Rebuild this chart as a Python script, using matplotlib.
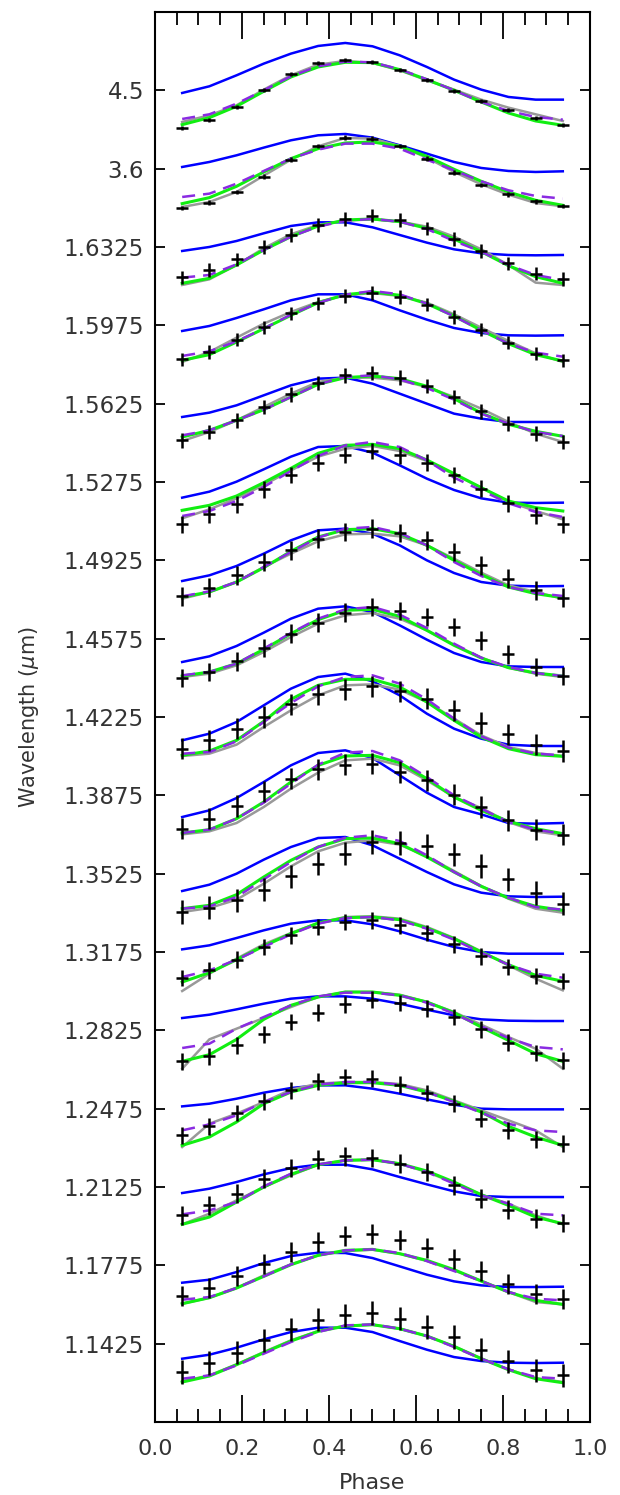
import matplotlib
matplotlib.use("Agg")
import matplotlib.pyplot as plt
import numpy as np

# spectroscopic channels, top of the stack first
wavelengths = [4.5, 3.6, 1.6325, 1.5975, 1.5625, 1.5275, 1.4925, 1.4575, 1.4225,
               1.3875, 1.3525, 1.3175, 1.2825, 1.2475, 1.2125, 1.1775, 1.1425]

phase = [0.0625, 0.125, 0.1875, 0.25, 0.3125, 0.375, 0.4375, 0.5,
         0.5625, 0.625, 0.6875, 0.75, 0.8125, 0.875, 0.9375]

SPACING = 235  # vertical shift between two channels (flux units)

# measured phase curves, relative flux
obs = [
    [-112, -88, -49, 0, 48, 81, 92, 84, 62, 31, -1, -32, -58, -83, -105],
    [-118, -102, -70, -24, 27, 68, 93, 90, 68, 30, -12, -49, -77, -98, -112],
    [-91, -69, -37, 0, 36, 66, 84, 94, 81, 56, 24, -12, -49, -80, -96],
    [-102, -80, -43, -6, 36, 66, 88, 97, 85, 62, 25, -13, -52, -85, -105],
    [-110, -85, -50, -10, 28, 62, 85, 92, 78, 53, 20, -23, -60, -90, -115],
    [-127, -97, -67, -22, 21, 58, 81, 93, 80, 58, 21, -20, -64, -100, -127],
    [-108, -82, -45, -5, 30, 65, 85, 95, 82, 60, 25, -15, -55, -90, -112],
    [-118, -100, -68, -28, 15, 48, 78, 95, 83, 65, 35, -5, -47, -85, -112],
    [-95, -70, -35, 0, 38, 68, 83, 92, 77, 55, 20, -18, -52, -83, -102],
    [-100, -70, -32, 12, 50, 78, 92, 95, 70, 45, 2, -35, -75, -103, -118],
    [-115, -102, -80, -48, -8, 30, 60, 95, 92, 83, 58, 23, -17, -58, -90],
    [-78, -55, -23, 15, 50, 75, 90, 95, 80, 57, 23, -13, -45, -72, -87],
    [-93, -78, -45, -12, 25, 53, 78, 92, 82, 65, 40, 3, -37, -68, -90],
    [-80, -53, -13, 22, 55, 82, 95, 90, 72, 47, 15, -30, -65, -92, -105],
    [-85, -55, -20, 25, 57, 83, 92, 87, 70, 45, 5, -35, -68, -95, -108],
    [-92, -67, -32, 5, 40, 70, 87, 93, 77, 53, 20, -18, -55, -87, -101],
    [-85, -58, -27, 10, 43, 72, 85, 92, 75, 50, 20, -18, -53, -80, -95],
]
obs_err = [6, 7, 20, 20, 22, 25, 28, 28, 32, 32, 35, 25, 25, 25, 28, 30, 35]

model_blue = [
    [-8, 12, 45, 80, 110, 133, 142, 132, 105, 70, 32, 2, -20, -28, -28],
    [5, 20, 40, 63, 85, 100, 104, 93, 70, 45, 20, 2, -7, -10, -8],
    [-12, 0, 18, 41, 63, 74, 74, 59, 36, 13, -7, -19, -24, -25, -24],
    [-17, -2, 22, 48, 75, 93, 93, 75, 45, 17, -8, -23, -30, -31, -30],
    [-40, -27, -5, 25, 55, 75, 78, 60, 30, 0, -30, -45, -55, -55, -55],
    [-47, -29, 1, 38, 76, 105, 108, 88, 50, 10, -24, -49, -62, -63, -62],
    [-62, -45, -17, 20, 60, 90, 95, 80, 45, 0, -38, -65, -76, -78, -77],
    [-70, -53, -22, 18, 60, 90, 97, 80, 40, -3, -43, -70, -83, -85, -85],
    [-70, -50, -15, 35, 85, 120, 130, 107, 65, 10, -35, -65, -83, -87, -87],
    [-65, -45, -8, 40, 90, 127, 135, 112, 60, 8, -35, -57, -83, -85, -83],
    [-52, -33, 0, 42, 80, 107, 110, 85, 45, 5, -32, -57, -68, -70, -69],
    [8, 20, 42, 65, 85, 95, 95, 83, 62, 37, 15, 0, -5, -5, -5],
    [37, 47, 63, 80, 95, 102, 102, 95, 80, 62, 45, 33, 29, 28, 28],
    [7, 15, 30, 48, 62, 70, 70, 60, 45, 28, 12, 0, -2, -2, -2],
    [-18, -5, 15, 38, 57, 67, 67, 53, 30, 8, -13, -27, -30, -30, -30],
    [-52, -43, -20, 7, 28, 38, 37, 22, -3, -28, -48, -60, -65, -65, -64],
    [-45, -33, -12, 13, 35, 48, 48, 35, 8, -18, -40, -52, -57, -58, -57],
]

model_gray = [
    [-95, -75, -45, 2, 45, 77, 88, 82, 60, 30, 2, -28, -52, -72, -92],
    [-115, -100, -70, -21, 27, 67, 92, 90, 68, 33, -10, -47, -78, -103, -113],
    [-114, -97, -54, -4, 38, 66, 79, 83, 76, 61, 31, -7, -54, -107, -114],
    [-110, -80, -37, 5, 40, 70, 90, 97, 88, 68, 33, -7, -47, -84, -110],
    [-112, -85, -50, -10, 30, 65, 78, 78, 70, 50, 20, -15, -55, -90, -115],
    [-109, -82, -49, -9, 35, 76, 100, 108, 93, 63, 23, -17, -59, -87, -112],
    [-115, -95, -65, -20, 20, 57, 78, 80, 72, 45, 5, -37, -75, -95, -115],
    [-115, -105, -80, -40, 5, 45, 70, 77, 60, 25, -18, -57, -87, -105, -115],
    [-117, -110, -83, -30, 20, 65, 95, 98, 82, 45, -5, -55, -90, -108, -117],
    [-117, -108, -83, -35, 20, 68, 105, 110, 90, 45, -5, -38, -80, -108, -120],
    [-115, -103, -78, -30, 22, 67, 93, 100, 87, 52, 8, -37, -75, -105, -117],
    [-117, -65, -20, 23, 57, 87, 105, 107, 100, 75, 42, 2, -40, -80, -115],
    [-115, -27, 5, 37, 70, 100, 115, 115, 107, 85, 55, 17, -20, -55, -115],
    [-115, -45, -15, 20, 57, 75, 80, 80, 74, 55, 25, -5, -35, -65, -115],
    [-112, -80, -40, 0, 35, 67, 80, 82, 70, 45, 13, -23, -50, -85, -112],
    [-115, -97, -68, -30, 3, 30, 43, 47, 35, 13, -15, -47, -80, -110, -117],
    [-113, -95, -62, -25, 10, 38, 54, 57, 45, 23, -8, -44, -77, -103, -115],
]

model_green = [
    [-103, -82, -48, -3, 40, 70, 84, 83, 62, 32, 0, -35, -68, -92, -105],
    [-105, -87, -53, -10, 30, 60, 77, 80, 67, 37, -2, -38, -70, -95, -110],
    [-109, -94, -54, -9, 31, 63, 81, 84, 76, 56, 24, -14, -56, -89, -109],
    [-105, -88, -50, -10, 30, 68, 92, 100, 90, 65, 28, -15, -55, -88, -107],
    [-100, -80, -50, -18, 20, 58, 78, 83, 75, 52, 15, -28, -62, -83, -98],
    [-85, -70, -42, -2, 41, 86, 110, 113, 100, 66, 25, -17, -57, -77, -87],
    [-110, -95, -65, -22, 27, 70, 92, 95, 80, 45, 0, -43, -80, -100, -112],
    [-112, -100, -75, -32, 15, 57, 85, 88, 67, 25, -20, -58, -87, -103, -112],
    [-115, -102, -70, -13, 53, 95, 113, 113, 90, 45, -10, -60, -95, -113, -118],
    [-113, -103, -70, -20, 40, 90, 118, 120, 98, 50, -5, -45, -78, -100, -115],
    [-105, -95, -63, -10, 40, 80, 105, 107, 90, 50, 5, -38, -73, -98, -110],
    [-90, -62, -23, 18, 55, 87, 103, 105, 97, 72, 40, 0, -38, -70, -88],
    [-93, -73, -27, 33, 75, 100, 115, 115, 105, 85, 53, 10, -30, -70, -93],
    [-110, -85, -40, 15, 50, 70, 78, 78, 70, 50, 22, -10, -53, -85, -110],
    [-112, -90, -45, 0, 38, 67, 80, 82, 70, 48, 15, -23, -55, -90, -110],
    [-115, -97, -68, -33, 2, 30, 45, 48, 35, 15, -13, -47, -80, -105, -117],
    [-115, -97, -63, -27, 8, 37, 53, 57, 45, 23, -8, -45, -78, -105, -117],
]

model_purple = [
    [-86, -72, -40, 0, 42, 72, 86, 84, 63, 33, 0, -35, -62, -80, -88],
    [-85, -75, -45, -7, 30, 57, 75, 75, 60, 27, -5, -38, -65, -82, -90],
    [-92, -84, -52, -9, 31, 61, 79, 84, 76, 54, 18, -14, -54, -84, -99],
    [-92, -78, -48, -10, 32, 67, 92, 103, 93, 65, 27, -15, -55, -82, -94],
    [-95, -80, -50, -18, 20, 58, 80, 85, 73, 47, 12, -30, -60, -85, -97],
    [-102, -87, -57, -15, 33, 78, 110, 120, 105, 65, 13, -25, -64, -90, -105],
    [-108, -93, -65, -20, 25, 68, 95, 100, 82, 45, -5, -47, -80, -98, -107],
    [-110, -100, -75, -30, 17, 60, 88, 95, 72, 32, -15, -57, -85, -103, -112],
    [-110, -105, -73, -15, 42, 92, 120, 125, 100, 53, -5, -58, -92, -110, -115],
    [-113, -103, -70, -22, 35, 92, 128, 133, 105, 55, 0, -40, -80, -103, -115],
    [-105, -98, -70, -17, 35, 80, 108, 115, 98, 55, 5, -38, -72, -100, -108],
    [-75, -55, -23, 15, 53, 85, 102, 105, 95, 70, 37, -2, -38, -65, -77],
    [-53, -40, 5, 40, 75, 102, 113, 113, 105, 83, 50, 12, -23, -50, -57],
    [-65, -47, -20, 20, 50, 72, 80, 80, 72, 50, 20, -12, -45, -65, -70],
    [-82, -70, -45, 2, 40, 68, 80, 82, 70, 45, 10, -25, -50, -80, -85],
    [-103, -95, -68, -33, 3, 30, 45, 48, 37, 13, -17, -47, -80, -100, -105],
    [-105, -95, -65, -30, 5, 35, 55, 58, 45, 23, -10, -45, -77, -100, -105],
]

TXT = '#333333'

fig = plt.figure(figsize=(6.2, 14.95), dpi=100)
ax = fig.add_axes([0.25, 0.0488, 0.7016, 0.9432])

n = len(wavelengths)
x = np.array(phase)
offsets = []
for j in range(n):
    off = (n - 1 - j) * SPACING
    offsets.append(off)
    ax.plot(x, np.array(model_blue[j]) + off, color='#0000ff', lw=1.8, zorder=2)
    ax.plot(x, np.array(model_gray[j]) + off, color='#999999', lw=1.8, zorder=3)
    ax.plot(x, np.array(model_green[j]) + off, color='#11ee11', lw=2.2, zorder=4)
    ax.plot(x, np.array(model_purple[j]) + off, color='#8a2be2', lw=1.8,
            dashes=(5.2, 3.2), zorder=5)
    ax.errorbar(x, np.array(obs[j]) + off, yerr=obs_err[j], fmt='_', color='black',
                ms=8, mew=1.8, elinewidth=1.8, capsize=0, zorder=6)

ax.set_xlim(0, 1)
ax.set_ylim(-SPACING, n * SPACING)
ax.set_xticks([0.0, 0.2, 0.4, 0.6, 0.8, 1.0])
ax.set_xticks(np.arange(0.05, 1.0, 0.05), minor=True)
ax.set_yticks(offsets)
ax.set_yticklabels([f"{w:g}" for w in wavelengths])

ax.tick_params(axis='x', which='major', direction='in', length=19.5, width=1.3,
               top=True, labelsize=16, labelcolor=TXT, pad=12)
ax.tick_params(axis='x', which='minor', direction='in', length=9.5, width=1.3, top=True)
ax.tick_params(axis='y', which='major', direction='in', length=7, width=1.3,
               right=True, labelsize=16.5, labelcolor=TXT, pad=8)
for s in ax.spines.values():
    s.set_linewidth(1.5)

ax.set_xlabel('Phase', fontsize=16, color=TXT, labelpad=10)
ax.set_ylabel(r'Wavelength ($\mu$m)', fontsize=15, color=TXT, labelpad=16)

fig.savefig('out.png', dpi=100)
